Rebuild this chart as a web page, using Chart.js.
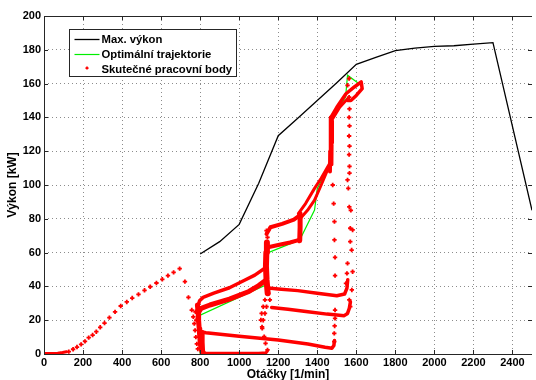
<!DOCTYPE html>
<html>
<head>
<meta charset="utf-8">
<title>Výkon motoru</title>
<script src="https://cdn.jsdelivr.net/npm/chart.js@4.4.1/dist/chart.umd.min.js"></script>
<style>
  html, body { margin: 0; padding: 0; background: #ffffff; }
  #wrap { width: 536px; height: 380px; }
</style>
</head>
<body>
<div id="wrap"><canvas id="chart" width="536" height="380"></canvas></div>
<script>
const FONT = '"Liberation Sans", Arial, Helvetica, sans-serif';

// Axis ranges and tick spacing
const rpmRange = [0, 2500];
const rpmStep = 200;
const kwRange = [0, 200];
const kwStep = 20;

// Full-load power curve
const maxRpm = [800, 900, 1000, 1100, 1200, 1300, 1400, 1500, 1600, 1700, 1800, 1900, 2000, 2100, 2200, 2300, 2500];
const maxKw  = [59.2, 66.5, 76.7, 101, 129.2, 139.5, 150, 160.5, 171.4, 175.5, 179.5, 181, 182, 182.4, 183.3, 184.2, 85];

// Optimal operating trajectory
const optRpm = [800, 800, 1140, 1142, 1310, 1386, 1400, 1470, 1478, 1545, 1555, 1612];
const optKw  = [0, 23, 41, 59.6, 67.5, 85.2, 98, 113, 140, 152, 165, 160];

// Measured operating points [rpm, kW] - isolated samples
const rampSamples = [[127,1.4],[149,2.8],[169,4.1],[190,5.7],[210,7.5],[229,9.7],[249,11.2],[268,13.2],[288,15.8],[310,18.3],[335,21.5],[364,24.9],[393,28.4],[424,30.8],[452,33.1],[484,35.3],[515,37.7],[544,39.8],[576,42],[606,44.2],[635,46.4],[664,48.3],[695,50.5],[722,42.8],[740,33.5],[757,26]];
const idleSamples = [[765,22],[770,18],[774,14],[778,10],[783,6],[788,3],[780,20],[776,25]];
const shiftSamples = [[1145,2.4],[1135,6.3],[1128,10.3],[1118,15.2],[1111,20.1],[1115,24],[1123,28],[1132,32],[1149,35.9],[1157,32],[1140,28],[1132,24],[1123,20],[1117,16],[1140,73],[1145,69]];
const col1488Samples = [[1479,100],[1484,89],[1488,78.3],[1488,67.5],[1491,57.2],[1491,46.4],[1491,26],[1491,21.1],[1489,16.6],[1487,12.2],[1487,7.3]];
const col1565Samples = [[1563,163],[1555,159],[1563,152],[1565,145],[1563,140],[1565,135],[1563,129],[1565,123],[1563,118],[1565,111],[1565,107],[1555,103],[1559,98],[1564,87],[1572,85],[1569,74.4],[1581,73.4],[1569,66.5],[1576,61.5],[1555,53.6],[1552,47.7],[1581,48.7],[1547,41.8],[1577,37.9],[1564,32],[1569,28]];

// Measured operating points [rpm, kW] - densely sampled runs, drawn as bands
const runStart    = [[0,0.3],[40,0.3],[70,0.5],[95,0.9],[115,1.3]];
const runIdleA    = [[786,29],[789,25],[792,20],[795,15],[798,10],[801,6],[805,3],[810,1],[818,0.5]];
const runIdleB    = [[812,13],[814,7],[816,2],[820,0.5]];
const runZero     = [[820,0.4],[950,0.4],[1100,0.5],[1138,0.8],[1145,2]];
const runLowLoad  = [[808,13],[830,12.6],[1000,10.5],[1200,8.3],[1352,5.9],[1440,4],[1475,3.4],[1485,5],[1488,8]];
const runLowGear  = [[793,25],[805,27],[850,29],[950,32.5],[1050,37],[1100,40.5],[1140,44]];
const runHighGear = [[788,28],[797,31.5],[815,33.5],[870,36],[950,39.2],[1030,43.8],[1080,46.7],[1140,51.5]];
const runShift    = [[1146,36],[1140,44],[1137,52],[1139,60],[1142,66]];
const runStepLow  = [[1142,63],[1200,64.5],[1260,66],[1308,67.5]];
const runStepHigh = [[1140,71],[1160,75],[1220,77],[1280,79.5],[1310,82]];
const runRise1310 = [[1310,67],[1312,75],[1312,83]];
const runDiagA    = [[1312,80],[1350,85],[1386,91],[1420,100],[1453,109],[1465,111]];
const runDiagB    = [[1303,83],[1340,89],[1386,98],[1420,104],[1450,110],[1470,114]];
const runRiseA    = [[1465,108],[1466,120],[1468,130],[1470,140]];
const runRiseB    = [[1475,112],[1476,125],[1478,138]];
const runTopA     = [[1470,140],[1500,146],[1547,154],[1590,158],[1625,161],[1630,157],[1600,153],[1572,150],[1555,150]];
const runTopB     = [[1478,139],[1515,146],[1555,151]];
const runCruise1  = [[1150,39],[1200,38.5],[1300,37.5],[1400,36],[1500,34.5],[1540,35.5],[1552,39],[1556,44]];
const runCruise2  = [[1166,27.5],[1250,26.5],[1352,25],[1450,23.6],[1538,22.7],[1555,24],[1564,27],[1570,31]];

const RED = '#ff0000';
const GREEN = '#00ee00';

const toXY = (xs, ys) => xs.map((x, i) => ({ x, y: ys[i] }));
const pairs = (arr) => arr.map(p => ({ x: p[0], y: p[1] }));

// [data, line width]
const runs = [
  [runStart, 3], [runIdleA, 5], [runIdleB, 3.5], [runZero, 3], [runLowLoad, 3.5],
  [runLowGear, 5], [runHighGear, 3.5], [runShift, 6], [runStepLow, 4], [runStepHigh, 4],
  [runRise1310, 5], [runDiagA, 3], [runDiagB, 3], [runRiseA, 4], [runRiseB, 3],
  [runTopA, 3.5], [runTopB, 3], [runCruise1, 3.5], [runCruise2, 3.5]
];

const datasets = [
  {
    label: 'Max. výkon',
    data: toXY(maxRpm, maxKw),
    showLine: true, borderColor: '#000000', borderWidth: 1.3,
    pointRadius: 0, order: 3, legendKind: 'line'
  },
  {
    label: 'Optimální trajektorie',
    data: toXY(optRpm, optKw),
    showLine: true, borderColor: GREEN, borderWidth: 1.2,
    pointRadius: 0, order: 2, legendKind: 'line'
  },
  {
    label: 'Skutečné pracovní body',
    data: pairs([].concat(rampSamples, idleSamples, shiftSamples, col1488Samples, col1565Samples)),
    showLine: false, borderColor: RED, backgroundColor: RED,
    pointStyle: 'cross', pointRadius: 2.2, pointBorderWidth: 1.8, pointHoverRadius: 2.2,
    order: 0, legendKind: 'point'
  }
];
runs.forEach(([run, w]) => {
  datasets.push({
    label: '',
    data: pairs(run),
    showLine: true, borderColor: RED, borderWidth: w,
    borderJoinStyle: 'round', borderCapStyle: 'round',
    pointRadius: 0, order: 1
  });
});

// Box around the plot with inward tick marks on all four sides
const frame = {
  id: 'frame',
  afterDatasetsDraw(chart) {
    const { ctx, chartArea: a, scales } = chart;
    ctx.save();
    ctx.strokeStyle = '#262626';
    ctx.lineWidth = 1;
    ctx.beginPath();
    ctx.moveTo(a.right, a.top + 0.5); ctx.lineTo(a.left + 0.5, a.top + 0.5);
    ctx.lineTo(a.left + 0.5, a.bottom + 0.5); ctx.lineTo(a.right, a.bottom + 0.5);
    const len = 4;
    scales.x.ticks.forEach(t => {
      const px = Math.round(scales.x.getPixelForValue(t.value)) + 0.5;
      ctx.moveTo(px, a.bottom); ctx.lineTo(px, a.bottom - len);
      ctx.moveTo(px, a.top); ctx.lineTo(px, a.top + len);
    });
    scales.y.ticks.forEach(t => {
      const py = Math.round(scales.y.getPixelForValue(t.value)) + 0.5;
      ctx.moveTo(a.left, py); ctx.lineTo(a.left + len, py);
      ctx.moveTo(a.right, py); ctx.lineTo(a.right - len, py);
    });
    ctx.stroke();
    ctx.restore();
  }
};

// Boxed legend in the upper-left corner of the plot
const boxLegend = {
  id: 'boxLegend',
  afterDraw(chart) {
    const { ctx, chartArea: a } = chart;
    const x0 = a.left + 25.5, y0 = a.top + 13.5, w = 167, h = 47;
    ctx.save();
    ctx.fillStyle = '#ffffff';
    ctx.fillRect(x0, y0, w, h);
    ctx.strokeStyle = '#262626';
    ctx.lineWidth = 1;
    ctx.strokeRect(x0, y0, w, h);
    ctx.font = 'bold 11.3px ' + FONT;
    ctx.textBaseline = 'middle';
    ctx.textAlign = 'left';
    const items = chart.data.datasets.filter(d => d.legendKind);
    items.forEach((d, i) => {
      const y = y0 + 9.5 + i * 15.3;
      if (d.legendKind === 'line') {
        ctx.strokeStyle = d.borderColor;
        ctx.lineWidth = d.borderWidth;
        ctx.beginPath();
        ctx.moveTo(x0 + 5, Math.round(y) + 0.5);
        ctx.lineTo(x0 + 30, Math.round(y) + 0.5);
        ctx.stroke();
      } else {
        ctx.strokeStyle = d.borderColor;
        ctx.lineWidth = 1.6;
        const cx = x0 + 17.5, cy = y - 1.5;
        ctx.beginPath();
        ctx.moveTo(cx - 1.5, cy); ctx.lineTo(cx + 1.5, cy);
        ctx.moveTo(cx, cy - 1.5); ctx.lineTo(cx, cy + 1.5);
        ctx.stroke();
      }
      ctx.fillStyle = '#000000';
      ctx.fillText(d.label, x0 + 32, y + 0.5);
    });
    ctx.restore();
  }
};

const tickFont = { family: FONT, size: 11, weight: 'bold' };
const titleFont = { family: FONT, size: 12, weight: 'bold', lineHeight: 0.84 };
const plainNumber = (v) => String(v);

new Chart(document.getElementById('chart'), {
  type: 'scatter',
  data: { datasets },
  options: {
    responsive: false,
    animation: false,
    devicePixelRatio: 1,
    layout: { padding: { top: 16, left: 0, right: 0, bottom: 0 } },
    plugins: { legend: { display: false }, tooltip: { enabled: false } },
    scales: {
      x: {
        type: 'linear', min: rpmRange[0], max: rpmRange[1],
        ticks: { stepSize: rpmStep, includeBounds: false, autoSkip: false, maxRotation: 0,
                 color: '#000', font: tickFont, padding: 2, callback: plainNumber },
        grid: { color: '#8c8c8c', lineWidth: 1, drawTicks: false },
        border: { display: false, dash: [1, 3] },
        title: { display: true, text: 'Otáčky [1/min]', color: '#000', font: titleFont, padding: 0 },
        afterFit: (s) => { s.height = 26; }
      },
      y: {
        type: 'linear', min: kwRange[0], max: kwRange[1],
        ticks: { stepSize: kwStep, autoSkip: false, color: '#000', font: tickFont, padding: 3, callback: plainNumber },
        grid: { color: '#8c8c8c', lineWidth: 1, drawTicks: false },
        border: { display: false, dash: [1, 3] },
        title: { display: true, text: 'Výkon [kW]', color: '#000', font: { family: FONT, size: 12, weight: 'bold' },
                 padding: { top: 5.5, bottom: 0 } },
        afterFit: (s) => { s.width = 44; }
      }
    }
  },
  plugins: [frame, boxLegend]
});
</script>
</body>
</html>
